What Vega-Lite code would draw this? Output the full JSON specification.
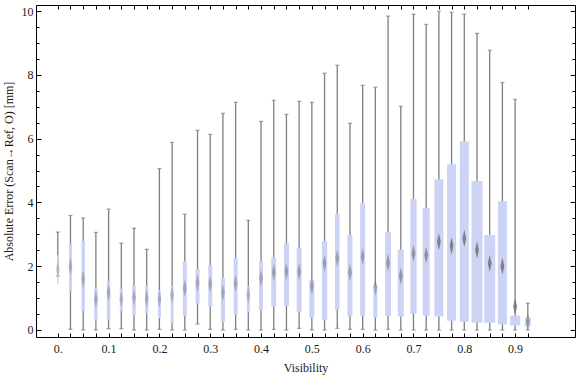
{
  "$schema": "https://vega.github.io/schema/vega-lite/v6.json",
  "width": 539,
  "height": 332,
  "autosize": {"type": "none"},
  "padding": {"left": 36, "top": 5, "right": 1, "bottom": 40},
  "config": {
    "view": {"stroke": "#000000", "strokeWidth": 1},
    "axis": {
      "grid": false,
      "domain": false,
      "labelFont": "Liberation Serif",
      "titleFont": "Liberation Serif",
      "labelFontSize": 12,
      "titleFontSize": 12,
      "titleFontWeight": "normal",
      "labelColor": "#1a1a1a",
      "titleColor": "#1a1a1a",
      "tickColor": "#000000",
      "tickWidth": 1,
      "labelOverlap": false
    }
  },
  "data": {
    "values": [
      {"v": 0.000, "lo": 1.69, "q1": 1.45, "mean": 1.90, "q3": 2.35, "hi": 3.07, "n": 1.5},
      {"v": 0.025, "lo": 0.02, "q1": 1.23, "mean": 1.99, "q3": 2.69, "hi": 3.59, "n": 3},
      {"v": 0.050, "lo": 0.00, "q1": 0.60, "mean": 1.60, "q3": 2.79, "hi": 3.51, "n": 3.5},
      {"v": 0.075, "lo": 0.00, "q1": 0.29, "mean": 0.96, "q3": 1.31, "hi": 3.06, "n": 3.5},
      {"v": 0.100, "lo": 0.04, "q1": 0.30, "mean": 1.17, "q3": 1.54, "hi": 3.79, "n": 3.5},
      {"v": 0.125, "lo": 0.04, "q1": 0.61, "mean": 0.97, "q3": 1.29, "hi": 2.72, "n": 3},
      {"v": 0.150, "lo": 0.00, "q1": 0.47, "mean": 1.02, "q3": 1.38, "hi": 3.19, "n": 3.5},
      {"v": 0.175, "lo": 0.00, "q1": 0.52, "mean": 0.99, "q3": 1.38, "hi": 2.53, "n": 3.3},
      {"v": 0.200, "lo": 0.02, "q1": 0.37, "mean": 0.97, "q3": 1.25, "hi": 5.06, "n": 3},
      {"v": 0.225, "lo": 0.00, "q1": 0.21, "mean": 1.10, "q3": 1.38, "hi": 5.88, "n": 3},
      {"v": 0.250, "lo": 0.00, "q1": 0.45, "mean": 1.31, "q3": 2.16, "hi": 3.63, "n": 4},
      {"v": 0.275, "lo": 0.19, "q1": 0.83, "mean": 1.48, "q3": 1.91, "hi": 6.26, "n": 4},
      {"v": 0.300, "lo": 0.02, "q1": 0.73, "mean": 1.44, "q3": 2.04, "hi": 6.13, "n": 4},
      {"v": 0.325, "lo": 0.00, "q1": 0.26, "mean": 1.17, "q3": 1.63, "hi": 6.79, "n": 4},
      {"v": 0.350, "lo": 0.02, "q1": 0.48, "mean": 1.46, "q3": 2.26, "hi": 7.14, "n": 4},
      {"v": 0.375, "lo": 0.00, "q1": 0.55, "mean": 1.10, "q3": 1.38, "hi": 3.44, "n": 3},
      {"v": 0.400, "lo": 0.00, "q1": 0.61, "mean": 1.62, "q3": 2.16, "hi": 6.54, "n": 4},
      {"v": 0.425, "lo": 0.02, "q1": 0.73, "mean": 1.80, "q3": 2.28, "hi": 7.20, "n": 5},
      {"v": 0.450, "lo": 0.00, "q1": 0.76, "mean": 1.83, "q3": 2.72, "hi": 6.76, "n": 5},
      {"v": 0.475, "lo": 0.05, "q1": 0.57, "mean": 1.83, "q3": 2.56, "hi": 7.17, "n": 5},
      {"v": 0.500, "lo": 0.00, "q1": 0.39, "mean": 1.38, "q3": 1.57, "hi": 7.14, "n": 5},
      {"v": 0.525, "lo": 0.00, "q1": 0.31, "mean": 2.09, "q3": 2.79, "hi": 8.05, "n": 5.3},
      {"v": 0.550, "lo": 0.05, "q1": 0.63, "mean": 2.25, "q3": 3.64, "hi": 8.30, "n": 4.5},
      {"v": 0.575, "lo": 0.02, "q1": 0.42, "mean": 1.80, "q3": 2.98, "hi": 6.48, "n": 5},
      {"v": 0.600, "lo": 0.02, "q1": 0.45, "mean": 2.30, "q3": 3.99, "hi": 7.67, "n": 5},
      {"v": 0.625, "lo": 0.00, "q1": 0.39, "mean": 1.34, "q3": 1.39, "hi": 7.61, "n": 4},
      {"v": 0.650, "lo": 0.02, "q1": 0.45, "mean": 2.11, "q3": 3.08, "hi": 9.84, "n": 6},
      {"v": 0.675, "lo": 0.00, "q1": 0.42, "mean": 1.69, "q3": 2.52, "hi": 7.01, "n": 6},
      {"v": 0.700, "lo": 0.00, "q1": 0.51, "mean": 2.40, "q3": 4.11, "hi": 9.90, "n": 6.3},
      {"v": 0.725, "lo": 0.00, "q1": 0.45, "mean": 2.35, "q3": 3.82, "hi": 9.58, "n": 7},
      {"v": 0.750, "lo": 0.00, "q1": 0.42, "mean": 2.77, "q3": 4.73, "hi": 9.99, "n": 9},
      {"v": 0.775, "lo": 0.00, "q1": 0.29, "mean": 2.64, "q3": 5.20, "hi": 9.96, "n": 9},
      {"v": 0.800, "lo": 0.00, "q1": 0.26, "mean": 2.87, "q3": 5.92, "hi": 9.90, "n": 9},
      {"v": 0.825, "lo": 0.00, "q1": 0.23, "mean": 2.51, "q3": 4.67, "hi": 9.30, "n": 11},
      {"v": 0.850, "lo": 0.00, "q1": 0.23, "mean": 2.09, "q3": 2.98, "hi": 8.77, "n": 11},
      {"v": 0.875, "lo": 0.00, "q1": 0.17, "mean": 2.00, "q3": 4.04, "hi": 7.76, "n": 9},
      {"v": 0.900, "lo": 0.00, "q1": 0.14, "mean": 0.74, "q3": 0.45, "hi": 7.23, "n": 10},
      {"v": 0.925, "lo": 0.00, "q1": 0.10, "mean": 0.27, "q3": 0.39, "hi": 0.84, "n": 6}
    ]
  },
  "layer": [
    {
      "mark": {"type": "rule", "color": "#7f7f7f", "strokeWidth": 1.3},
      "encoding": {
        "x": {
          "field": "v", "type": "quantitative",
          "scale": {"domain": [-0.033, 1.008], "nice": false, "zero": false},
          "axis": {
            "orient": "bottom",
            "title": "Visibility",
            "values": [0, 0.025, 0.05, 0.075, 0.1, 0.125, 0.15, 0.175, 0.2, 0.225, 0.25, 0.275, 0.3, 0.325, 0.35, 0.375, 0.4, 0.425, 0.45, 0.475, 0.5, 0.525, 0.55, 0.575, 0.6, 0.625, 0.65, 0.675, 0.7, 0.725, 0.75, 0.775, 0.8, 0.825, 0.85, 0.875, 0.9, 0.925],
            "labelExpr": "abs(datum.value * 10 - round(datum.value * 10)) < 0.001 ? (datum.value == 0 ? '0.' : format(datum.value, '.1f')) : ''",
            "tickSize": -4,
            "labelPadding": 10,
            "titlePadding": 8
          }
        },
        "y": {
          "field": "lo", "type": "quantitative",
          "scale": {"domain": [-0.22, 10.19], "nice": false, "zero": false},
          "axis": {
            "orient": "left",
            "title": "Absolute Error (Scan→Ref, O) [mm]",
            "values": [0, 2, 4, 6, 8, 10],
            "format": "d",
            "tickSize": -5,
            "labelPadding": 8,
            "titlePadding": 6
          }
        },
        "y2": {"field": "hi"}
      }
    },
    {
      "mark": {"type": "tick", "orient": "horizontal", "size": 4, "thickness": 1.3, "color": "#7f7f7f"},
      "encoding": {
        "x": {
          "field": "v", "type": "quantitative",
          "axis": {
            "orient": "top", "title": null, "labels": false, "tickSize": -4,
            "values": [0, 0.025, 0.05, 0.075, 0.1, 0.125, 0.15, 0.175, 0.2, 0.225, 0.25, 0.275, 0.3, 0.325, 0.35, 0.375, 0.4, 0.425, 0.45, 0.475, 0.5, 0.525, 0.55, 0.575, 0.6, 0.625, 0.65, 0.675, 0.7, 0.725, 0.75, 0.775, 0.8, 0.825, 0.85, 0.875, 0.9, 0.925]
          }
        },
        "y": {
          "field": "lo", "type": "quantitative",
          "axis": {
            "orient": "left", "title": null, "labels": false, "tickSize": -3,
            "values": [0, 0.5, 1, 1.5, 2, 2.5, 3, 3.5, 4, 4.5, 5, 5.5, 6, 6.5, 7, 7.5, 8, 8.5, 9, 9.5, 10]
          }
        }
      }
    },
    {
      "mark": {"type": "tick", "orient": "horizontal", "size": 4, "thickness": 1.3, "color": "#7f7f7f"},
      "encoding": {
        "x": {"field": "v", "type": "quantitative", "axis": null},
        "y": {
          "field": "hi", "type": "quantitative",
          "axis": {
            "orient": "right", "title": null, "labels": false, "tickSize": -5,
            "values": [0, 2, 4, 6, 8, 10]
          }
        }
      }
    },
    {
      "mark": {"type": "bar", "color": "#ccd3f5"},
      "encoding": {
        "x": {"field": "v", "type": "quantitative", "axis": null},
        "y": {
          "field": "q1", "type": "quantitative",
          "axis": {
            "orient": "right", "title": null, "labels": false, "tickSize": -3,
            "values": [0, 0.5, 1, 1.5, 2, 2.5, 3, 3.5, 4, 4.5, 5, 5.5, 6, 6.5, 7, 7.5, 8, 8.5, 9, 9.5, 10]
          }
        },
        "y2": {"field": "q3"},
        "size": {"field": "n", "type": "quantitative", "scale": {"domain": [0, 12], "range": [0, 12]}, "legend": null}
      }
    },
    {
      "mark": {"type": "point", "shape": "M0,-1L0.22,0L0,1L-0.22,0Z", "filled": true, "size": 300, "color": "#777777", "strokeWidth": 0},
      "encoding": {
        "x": {"field": "v", "type": "quantitative", "axis": null},
        "y": {"field": "mean", "type": "quantitative", "axis": null},
        "opacity": {"field": "n", "type": "quantitative", "scale": {"domain": [1.5, 9], "range": [0.3, 0.9], "clamp": true}, "legend": null}
      }
    }
  ],
  "resolve": {"axis": {"x": "independent", "y": "independent"}}
}
